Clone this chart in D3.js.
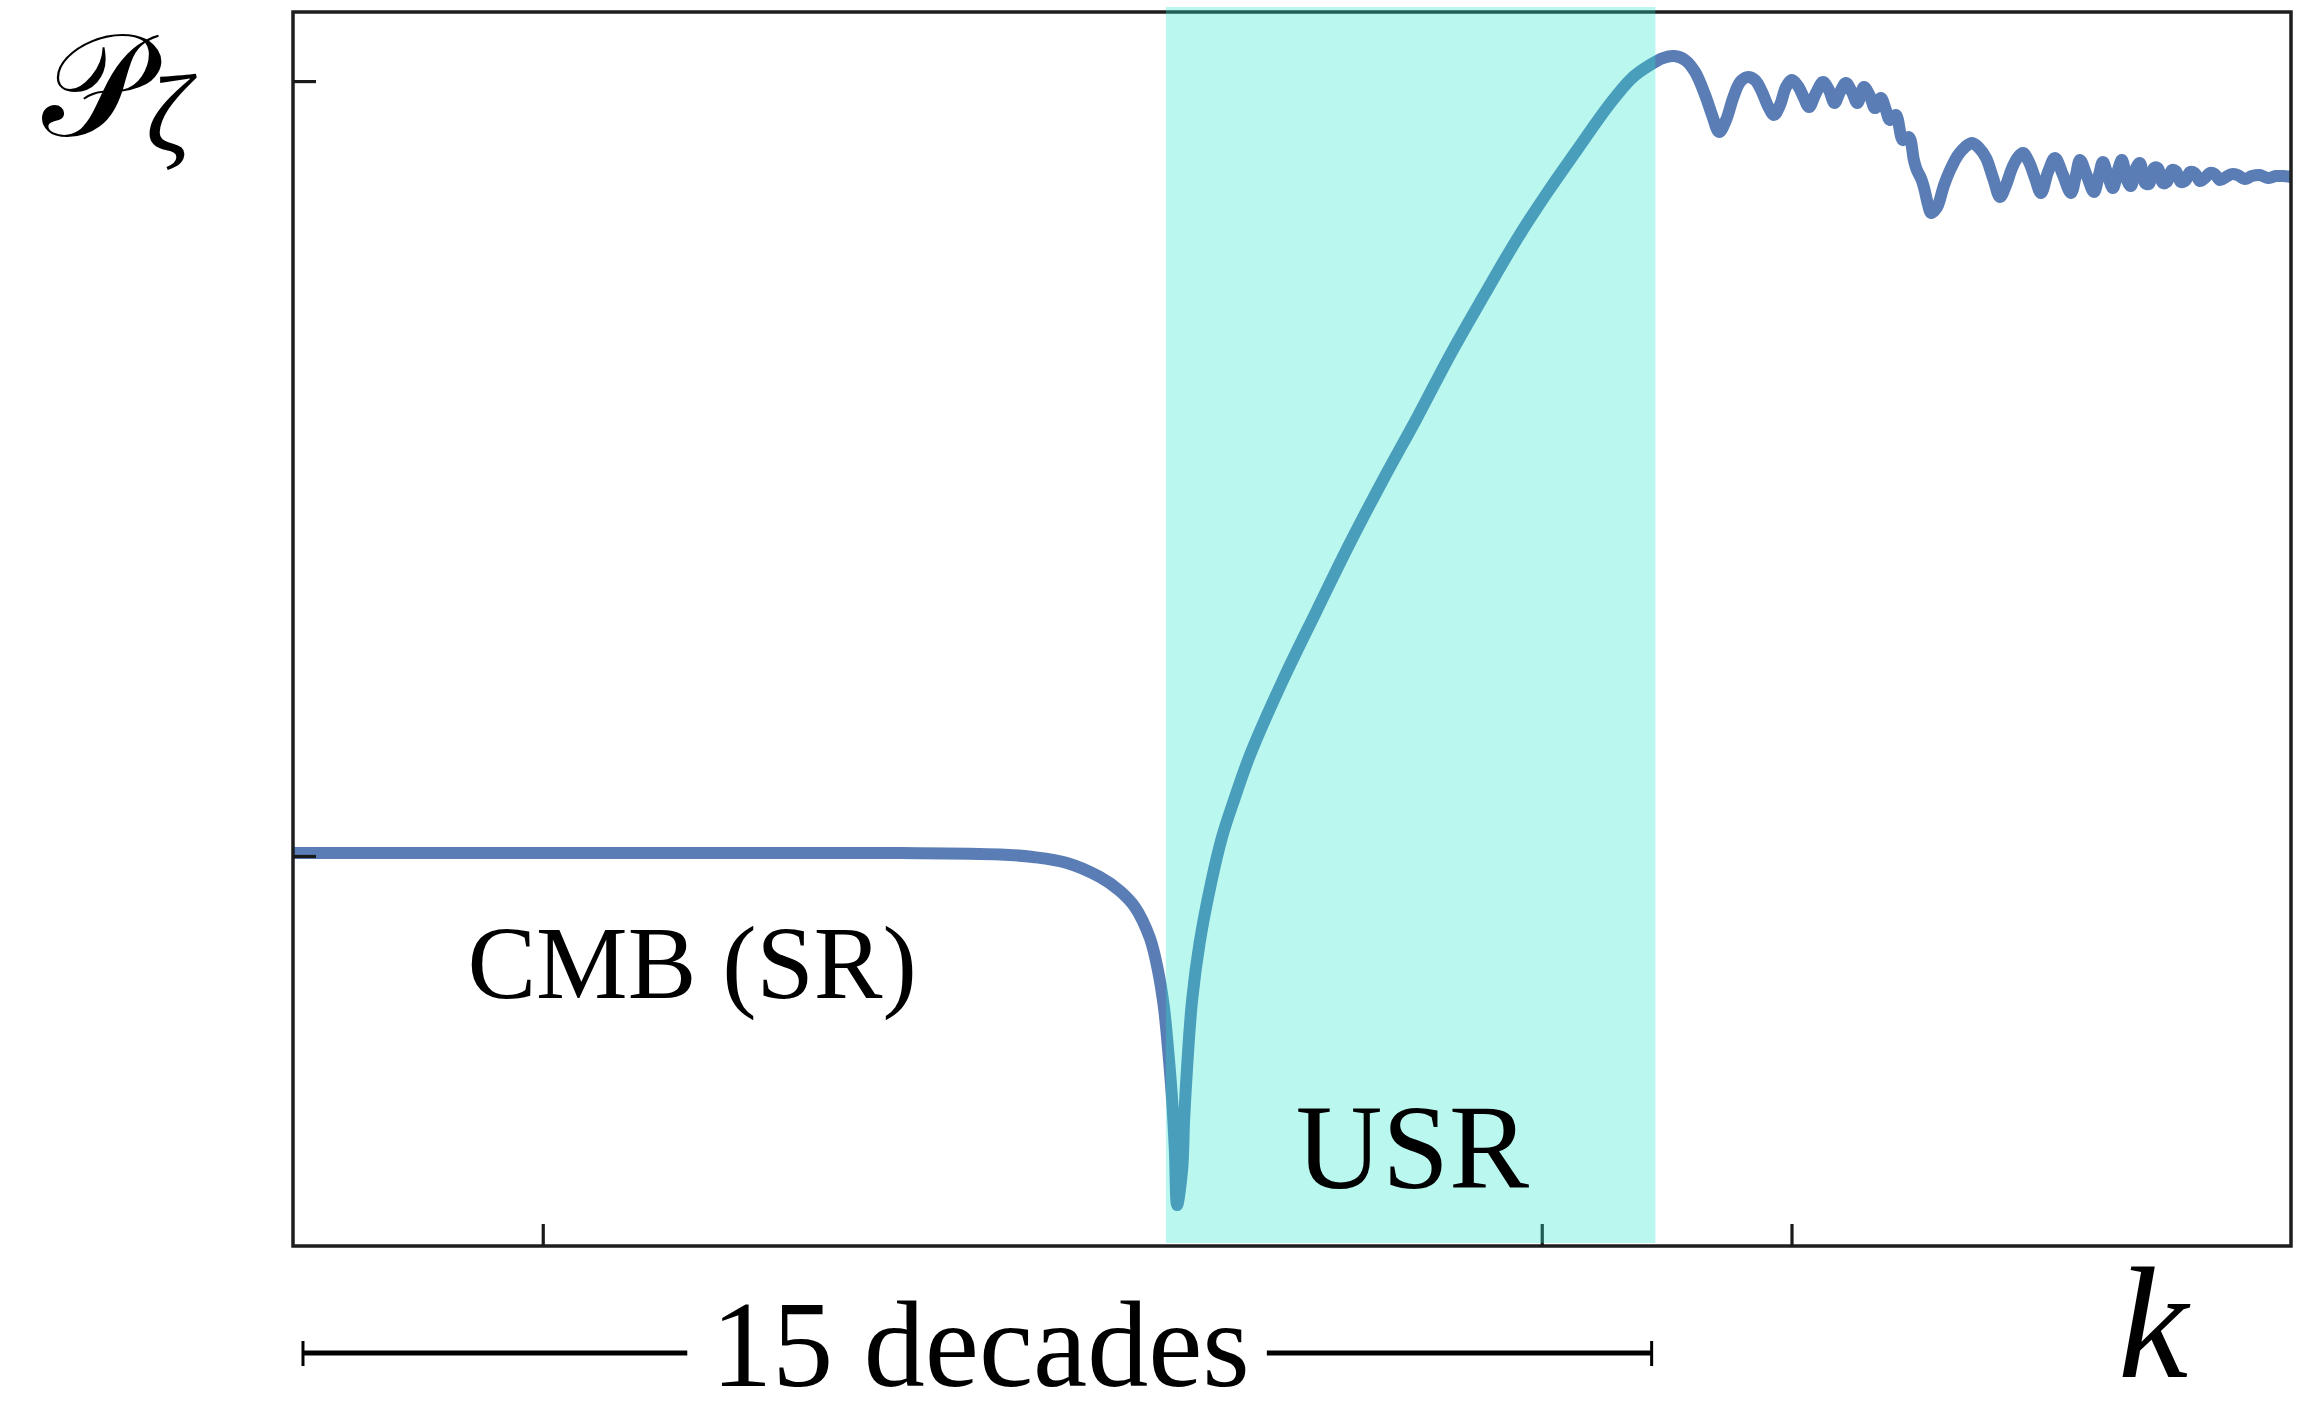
<!DOCTYPE html>
<html>
<head>
<meta charset="utf-8">
<script src="https://cdn.jsdelivr.net/npm/d3@7"></script>
<style>
  html, body { margin: 0; padding: 0; background: #fff; }
  svg { display: block; }
</style>
</head>
<body>
<svg id="chart" width="2321" height="1413"></svg>
<script>
// ---- data (x in arbitrary log-k units, y in log10(P/P_CMB)-like units) ----
const kVals = [0,12.29,24.30,28.31,29.63,30.99,32.31,33.11,33.71,34.31,34.63,34.87,35.04,35.20,35.31,35.40,
  35.60,35.68,35.80,36.00,36.30,36.76,37.20,37.68,38.32,39.64,41.00,42.32,43.64,45.00,46.33,47.65,49.01,50.21,
  51.41,52.69,53.61,54.33,54.85,55.30,55.74,56.14,56.54,56.82,57.10,57.38,57.66,57.94,58.22,58.54,58.82,59.06,
  59.30,59.54,59.78,60.02,60.26,60.50,60.70,60.98,61.26,61.50,61.72,61.94,62.18,62.42,62.64,62.90,63.14,63.34,
  63.58,63.78,63.94,64.18,64.46,64.70,64.90,65.02,65.18,65.30,65.47,65.59,65.75,65.87,66.11,66.35,66.67,66.95,
  67.23,67.51,67.79,68.07,68.35,68.59,68.83,69.07,69.27,69.51,69.75,69.99,70.27,70.55,70.87,71.19,71.39,71.55,
  71.83,72.11,72.31,72.47,72.67,72.87,73.07,73.23,73.43,73.59,73.79,73.95,74.15,74.31,74.51,74.67,74.87,75.03,
  75.23,75.39,75.59,75.79,75.95,76.15,76.35,76.55,76.75,76.95,77.15,77.39,77.63,77.87,78.15,78.43,78.75,79.07,
  79.39,79.71,80.00];
const pVals = [0.027,0.027,0.027,0.014,-0.009,-0.063,-0.190,-0.316,-0.461,-0.741,-1.030,-1.364,-1.752,-2.204,-2.656,-3.152,
  -2.836,-2.385,-1.906,-1.301,-0.786,-0.244,0.172,0.506,0.912,1.590,2.222,2.827,3.396,3.956,4.525,5.049,5.573,5.989,
  6.377,6.783,7.027,7.145,7.208,7.226,7.190,7.082,6.874,6.693,6.540,6.648,6.847,6.991,7.036,7.009,6.901,6.774,
  6.693,6.783,6.946,7.009,6.955,6.847,6.765,6.892,6.991,6.919,6.802,6.901,6.982,6.901,6.802,6.946,6.865,6.756,
  6.847,6.738,6.648,6.693,6.467,6.494,6.287,6.196,6.124,6.043,5.880,5.808,5.835,5.880,6.061,6.196,6.332,6.404,
  6.440,6.395,6.305,6.124,5.953,6.061,6.214,6.314,6.350,6.269,6.124,5.989,6.178,6.305,6.151,5.989,6.151,6.287,
  6.142,5.998,6.151,6.269,6.142,6.034,6.196,6.287,6.106,6.052,6.214,6.260,6.079,6.070,6.214,6.214,6.079,6.088,
  6.196,6.187,6.088,6.106,6.178,6.169,6.097,6.124,6.169,6.160,6.106,6.133,6.160,6.151,6.115,6.142,6.151,6.124,
  6.142,6.142,6.133];
const xTicks = [10, 50, 60];
const yTicks = [0, 7];
const usrRange = [34.95, 54.55];
const decadeBar = [0.4, 54.4];
const labels = { cmb: "CMB (SR)", usr: "USR", decades: "15 decades", xLabel: "k" };

// ---- layout ----
const L = 293, R = 2291, T = 12, B = 1246;
const x = d3.scaleLinear().domain([0, 80]).range([L, R]);
const y = d3.scaleLinear().domain([-3.523, 7.624]).range([B, T]);

const svg = d3.select("#chart");
const data = kVals.map((k, i) => [k, pVals[i]]);

// curve
svg.append("path")
  .datum(data)
  .attr("d", d3.line().x(d => x(d[0])).y(d => y(d[1])).curve(d3.curveCatmullRom.alpha(0.5)))
  .attr("fill", "none")
  .attr("stroke", "#5a7db5")
  .attr("stroke-width", 12)
  .attr("stroke-linejoin", "round");

// frame
svg.append("rect")
  .attr("x", L).attr("y", T).attr("width", R - L).attr("height", B - T)
  .attr("fill", "none").attr("stroke", "#1e1e1e").attr("stroke-width", 3.5);

// axes with inward ticks
const xAxis = svg.append("g").attr("transform", `translate(0,${B})`)
  .call(d3.axisBottom(x).tickValues(xTicks).tickSize(-22).tickFormat(""));
const yAxis = svg.append("g").attr("transform", `translate(${L},0)`)
  .call(d3.axisLeft(y).tickValues(yTicks).tickSize(-23).tickFormat(""));
[xAxis, yAxis].forEach(g => {
  g.select(".domain").remove();
  g.selectAll(".tick line").attr("stroke", "#1a1a1a").attr("stroke-width", 3.2);
});

// USR band (semi-transparent, over curve and frame)
svg.append("rect")
  .attr("x", x(usrRange[0])).attr("width", x(usrRange[1]) - x(usrRange[0]))
  .attr("y", T - 5).attr("height", B - 3 - (T - 5))
  .attr("fill", "rgb(37,230,204)").attr("fill-opacity", 0.317);

const serif = "'Liberation Serif', 'Times New Roman', serif";

// region labels
svg.append("text").text(labels.cmb)
  .attr("x", x(15.98)).attr("y", y(-1.283))
  .attr("text-anchor", "middle").attr("font-family", serif).attr("font-size", 103).attr("fill", "#000");
svg.append("text").text(labels.usr)
  .attr("x", x(44.82)).attr("y", y(-3.0))
  .attr("text-anchor", "middle").attr("font-family", serif).attr("font-size", 120).attr("fill", "#000");

// y label  P_zeta
svg.append("text").text("\u{1D4AB}")
  .attr("x", 42).attr("y", 136)
  .attr("font-family", "'DejaVu Serif', 'DejaVu Sans', serif").attr("font-size", 145).attr("fill", "#000");
svg.append("text").text("\u03B6")
  .attr("x", 146).attr("y", 151)
  .attr("font-family", serif).attr("font-style", "italic").attr("font-size", 110).attr("fill", "#000");

// x label k
svg.append("text").text(labels.xLabel)
  .attr("x", 2118).attr("y", 1377)
  .attr("font-family", serif).attr("font-style", "italic").attr("font-size", 158).attr("fill", "#000");

// 15 decades bar
const barY = 1353;
const dt = svg.append("text").text(labels.decades)
  .attr("x", x(27.53)).attr("y", 1386)
  .attr("text-anchor", "middle").attr("font-family", serif).attr("font-size", 122).attr("fill", "#000");
const bb = dt.node().getBBox();
const bar = svg.append("g").attr("stroke", "#000");
bar.append("line").attr("x1", x(decadeBar[0])).attr("x2", bb.x - 24).attr("y1", barY).attr("y2", barY).attr("stroke-width", 5);
bar.append("line").attr("x1", bb.x + bb.width + 17).attr("x2", x(decadeBar[1])).attr("y1", barY).attr("y2", barY).attr("stroke-width", 5);
[decadeBar[0], decadeBar[1]].forEach(v => {
  bar.append("line").attr("x1", x(v)).attr("x2", x(v)).attr("y1", barY - 12).attr("y2", barY + 13).attr("stroke-width", 3);
});
</script>
</body>
</html>
